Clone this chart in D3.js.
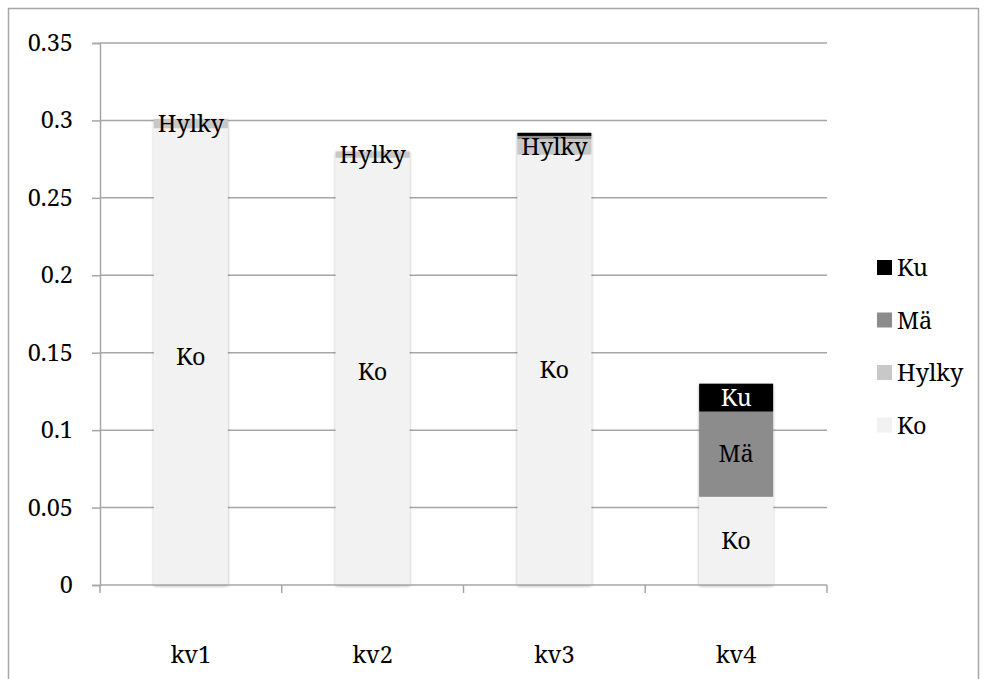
<!DOCTYPE html>
<html>
<head>
<meta charset="utf-8">
<script src="https://cdn.jsdelivr.net/npm/d3@7"></script>
<style>
  html, body { margin: 0; padding: 0; background: #fff; }
  svg { display: block; }
</style>
</head>
<body>
<svg id="chart" width="987" height="679"></svg>
<script>
// Quarters on the x axis
const categories = ["kv1", "kv2", "kv3", "kv4"];
// Stack order, bottom to top
const seriesNames = ["Ko", "Hylky", "Mä", "Ku"];
// Values per series, one per quarter
const koValues    = [0.295, 0.276, 0.278, 0.057];
const hylkyValues = [0.006, 0.004, 0.010, 0.000];
const maValues    = [0.000, 0.000, 0.002, 0.055];
const kuValues    = [0.000, 0.000, 0.002, 0.018];
const seriesColors = ["#f2f2f2", "#c8c8c8", "#8c8c8c", "#000000"];
const yTicks = [0, 0.05, 0.1, 0.15, 0.2, 0.25, 0.3, 0.35];
const yTickLabels = ["0", "0.05", "0.1", "0.15", "0.2", "0.25", "0.3", "0.35"];

const FONT = '"Noto Serif", "Liberation Serif", serif';
const FS = 23.5;

const rows = categories.map((c, i) => ({
  cat: c, Ko: koValues[i], Hylky: hylkyValues[i], "Mä": maValues[i], Ku: kuValues[i]
}));

const svg = d3.select("#chart");
const plot = { left: 100, right: 827, top: 43, bottom: 585 };

// Outer frame
svg.append("rect")
  .attr("x", 8.5).attr("y", 8.5).attr("width", 970).attr("height", 690)
  .attr("fill", "none").attr("stroke", "#a6a6a6").attr("stroke-width", 1.5);

const x = d3.scaleBand().domain(categories).range([plot.left, plot.right])
  .paddingInner(0.593).paddingOuter(0.2965);
const xOuter = d3.scaleBand().domain(categories).range([plot.left, plot.right]);
const y = d3.scaleLinear().domain([0, 0.35]).range([plot.bottom, plot.top]);

const defs = svg.append("defs");
const shadow = defs.append("filter").attr("id", "shadow")
  .attr("x", "-20%").attr("y", "-20%").attr("width", "140%").attr("height", "140%");
shadow.append("feGaussianBlur").attr("in", "SourceAlpha").attr("stdDeviation", 1.5);
shadow.append("feOffset").attr("dx", 0).attr("dy", 1).attr("result", "b");
shadow.append("feComponentTransfer").append("feFuncA").attr("type", "linear").attr("slope", 0.35);
const merge = shadow.append("feMerge");
merge.append("feMergeNode");
merge.append("feMergeNode").attr("in", "SourceGraphic");

// Horizontal gridlines
svg.append("g").selectAll("line").data(yTicks.filter(t => t > 0)).join("line")
  .attr("x1", plot.left).attr("x2", plot.right)
  .attr("y1", d => y(d)).attr("y2", d => y(d))
  .attr("stroke", "#a6a6a6").attr("stroke-width", 1.5);

// Y axis
const yAxis = svg.append("g").attr("transform", `translate(${plot.left},0)`)
  .call(d3.axisLeft(y).tickValues(yTicks).tickFormat((d, i) => yTickLabels[i]).tickSize(8).tickPadding(19));
yAxis.attr("font-family", null).attr("font-size", null);
yAxis.select(".domain").attr("stroke", "#a6a6a6").attr("stroke-width", 1.5);
yAxis.selectAll(".tick line").attr("stroke", "#a6a6a6").attr("stroke-width", 1.5);
yAxis.selectAll(".tick text")
  .style("font-family", FONT).style("font-size", FS + "px").attr("fill", "#000");

// Stacked bars
const stack = d3.stack().keys(seriesNames)(rows);
const color = d3.scaleOrdinal().domain(seriesNames).range(seriesColors);

const layers = svg.append("g").attr("filter", "url(#shadow)");
layers.selectAll("g").data(stack).join("g")
  .attr("fill", d => color(d.key))
  .selectAll("rect").data(d => d.filter(s => s[1] - s[0] > 0)).join("rect")
  .attr("x", d => x(d.data.cat))
  .attr("width", x.bandwidth())
  .attr("y", d => y(d[1]))
  .attr("height", d => y(d[0]) - y(d[1]));

// X axis
const xAxisG = svg.append("g").attr("transform", `translate(0,${plot.bottom})`);
xAxisG.append("line").attr("x1", plot.left).attr("x2", plot.right)
  .attr("stroke", "#a6a6a6").attr("stroke-width", 1.5);
xAxisG.selectAll("line.tk").data(categories.map(c => xOuter(c)).concat([plot.right])).join("line")
  .attr("class", "tk")
  .attr("x1", d => d).attr("x2", d => d).attr("y1", 0).attr("y2", 8)
  .attr("stroke", "#a6a6a6").attr("stroke-width", 1.5);
xAxisG.selectAll("text").data(categories).join("text")
  .attr("x", d => x(d) + x.bandwidth() / 2)
  .attr("y", 78)
  .attr("text-anchor", "middle")
  .style("font-family", FONT).style("font-size", FS + "px")
  .attr("fill", "#000")
  .text(d => d);

// Segment labels
const labelData = [];
stack.forEach(layer => {
  layer.forEach(s => {
    const v = s[1] - s[0];
    if (v >= 0.003) labelData.push({ key: layer.key, cat: s.data.cat, mid: (s[0] + s[1]) / 2 });
  });
});
svg.append("g").selectAll("text").data(labelData).join("text")
  .attr("x", d => x(d.cat) + x.bandwidth() / 2)
  .attr("y", d => y(d.mid))
  .attr("dy", "0.35em")
  .attr("text-anchor", "middle")
  .style("font-family", FONT).style("font-size", FS + "px")
  .attr("fill", d => d.key === "Ku" ? "#fff" : "#000")
  .text(d => d.key);

// Legend, top to bottom in reverse stack order
const legendItems = seriesNames.slice().reverse();
const legend = svg.append("g");
legendItems.forEach((name, i) => {
  const cy = 268 + i * 52.5;
  legend.append("rect")
    .attr("x", 877).attr("y", cy - 8).attr("width", 15).attr("height", 15)
    .attr("fill", color(name));
  legend.append("text")
    .attr("x", 897).attr("y", cy).attr("dy", "0.35em")
    .style("font-family", FONT).style("font-size", FS + "px")
    .attr("fill", "#000")
    .text(name);
});
</script>
</body>
</html>
